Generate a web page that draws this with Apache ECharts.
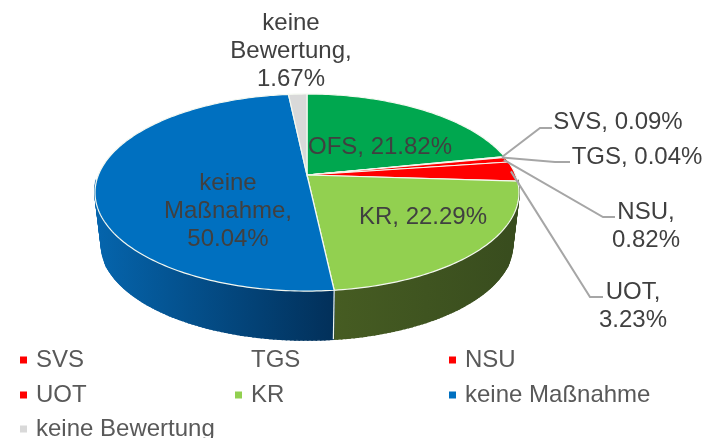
<!DOCTYPE html>
<html><head><meta charset="utf-8">
<style>html,body{margin:0;padding:0;background:#fff}#c{width:715px;height:438px}</style>
<script src="https://cdn.jsdelivr.net/npm/echarts@6/dist/echarts.min.js"></script>
</head><body><div id="c"></div>
<script>
const categories = ['OFS','SVS','TGS','NSU','UOT','KR','keine Maßnahme','keine Bewertung'];
const shares = [21.82,0.09,0.04,0.82,3.23,22.29,50.04,1.67];
const colors = ['#00a74f','#ff0000','#ffffff','#ff0000','#ff0000','#92d050','#0070c0','#d9d9d9'];
const legendCol1 = ['SVS','UOT'];
const legendCol2 = ['TGS','KR'];
const legendCol3 = ['NSU','keine Maßnahme'];
const legendRow3 = ['keine Bewertung'];

// layout only
const TOP = {cx:307, cy:175, rx:208.6, ry:95.4};
const BOT = {cx:307, cy:227.5, rx:202.3, ry:92.5};
const PERSP = 0.178;
const sideFill = {
  'KR': ['#465c22','#384c1e',333,520],
  'keine Maßnahme': ['#0565ad','#02305a',95,333]
};
const labelLayout = {
  'OFS': {x:380,y:147,lines:['OFS, 21.82%']},
  'SVS': {x:618,y:122,lines:['SVS, 0.09%'],elbow:[[540,128],[552,128]]},
  'TGS': {x:637,y:157,lines:['TGS, 0.04%'],elbow:[[555,162],[570,162]]},
  'NSU': {x:646,y:226,lines:['NSU,','0.82%'],elbow:[[603,217],[615,217]]},
  'UOT': {x:633,y:306,lines:['UOT,','3.23%'],elbow:[[590,297],[603,297]]},
  'KR': {x:423,y:217,lines:['KR, 22.29%']},
  'keine Maßnahme': {x:228,y:211,lines:['keine','Maßnahme,','50.04%']},
  'keine Bewertung': {x:291,y:51,lines:['keine','Bewertung,','1.67%']}
};

function project(e, pct){
  const a = pct/100*2*Math.PI, c = Math.sin(a), s = -Math.cos(a), w = 1-PERSP*s;
  return [e.cx+e.rx*c/w, e.cy+e.ry*s/w];
}
function frontness(pct){ return -Math.cos(pct/100*2*Math.PI); }
const starts = shares.map((_,i)=>shares.slice(0,i).reduce((a,b)=>a+b,0));

function renderSlice(i){
  return function(params, api){
    const start = starts[i], val = api.value(0), name = categories[i];
    const steps = Math.max(2, Math.ceil(val*3.6));
    const arc = [];
    for(let k=0;k<=steps;k++) arc.push(start+val*k/steps);
    const children = [];
    // side wall
    if(sideFill[name]){
      const f = sideFill[name];
      const grad = {type:'linear',x:f[2],y:0,x2:f[3],y2:0,global:true,
        colorStops:[{offset:0,color:f[0]},{offset:1,color:f[1]}]};
      for(let k=0;k<steps;k++){
        if(Math.max(frontness(arc[k]),frontness(arc[k+1]))<0.1) continue;
        children.push({type:'polygon',z2:1,silent:true,
          shape:{points:[project(TOP,arc[k]),project(TOP,arc[k+1]),project(BOT,arc[k+1]),project(BOT,arc[k])]},
          style:{fill:grad,stroke:grad,lineWidth:1.6}});
      }
      if(name==='keine Maßnahme'){
        children.push({type:'line',z2:2,silent:true,
          shape:{x1:project(TOP,start)[0],y1:project(TOP,start)[1],x2:project(BOT,start)[0],y2:project(BOT,start)[1]},
          style:{stroke:'#eef5ee',lineWidth:1.2}});
      }
    }
    // top face
    const pts = [[TOP.cx,TOP.cy]].concat(arc.map(p=>project(TOP,p)));
    children.push({type:'polygon',z2:3,silent:true,shape:{points:pts},
      style:{fill:colors[i],stroke:'#f4f8f0',lineWidth:name==='TGS'?0.6:1.2}});
    // label + leader
    const L = labelLayout[name];
    if(L.elbow){
      const tip = project({cx:TOP.cx,cy:TOP.cy,rx:TOP.rx*0.985,ry:TOP.ry*0.985}, start+val/2);
      children.push({type:'polyline',z2:4,silent:true,shape:{points:[tip].concat(L.elbow)},
        style:{fill:null,stroke:'#a6a6a6',lineWidth:2}});
    }
    children.push({type:'text',z2:5,silent:true,x:L.x,y:L.y,
      style:{text:L.lines.join('\n'),fill:'#404040',font:'24px "Liberation Sans"',lineHeight:28,
        align:'center',verticalAlign:'middle'}});
    return {type:'group',children};
  };
}

const series = categories.map((n,i)=>({
  type:'custom',name:n,coordinateSystem:'none',clip:false,silent:true,
  itemStyle:{color:colors[i]},
  data:[[shares[i]]],
  renderItem:renderSlice(i)
}));

function legend(data,left,top){
  return {data,left,top,orient:'vertical',padding:0,itemWidth:7,itemHeight:7,itemGap:11,
    selectedMode:false,icon:'rect',
    textStyle:{color:'#595959',fontSize:24,fontFamily:'Liberation Sans',padding:[0,0,0,4]}};
}
const chart = echarts.init(document.getElementById('c'),null,{renderer:'canvas'});
chart.setOption({
  animation:false,backgroundColor:'#ffffff',
  legend:[legend(legendCol1,20,348),legend(legendCol2,235,348),legend(legendCol3,449,348),legend(legendRow3,20,417)],
  series
});
</script></body></html>
